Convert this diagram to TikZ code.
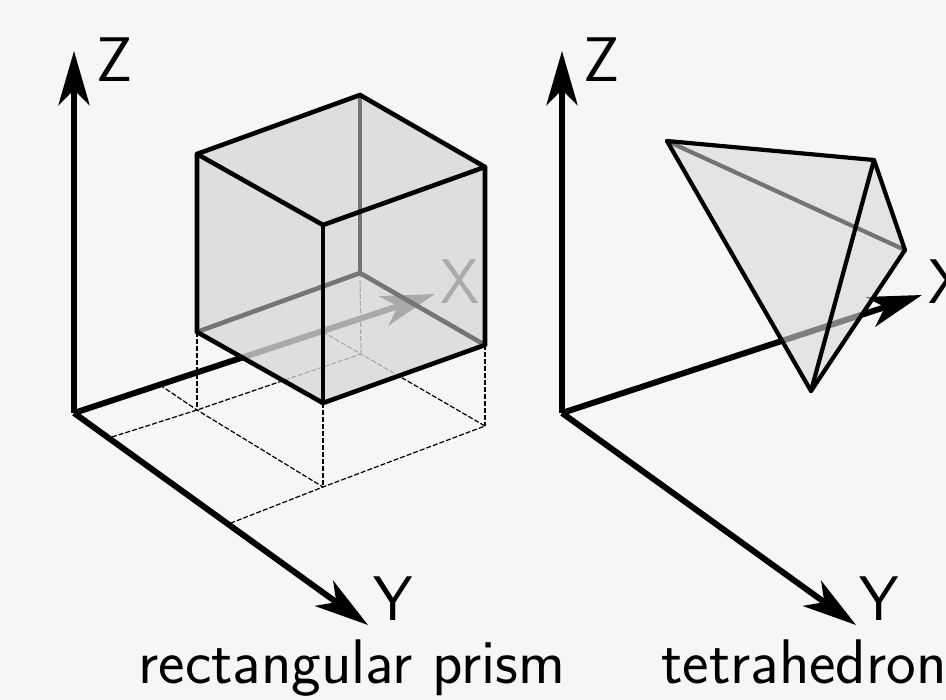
\documentclass[tikz,border=0pt]{standalone}
\usetikzlibrary{arrows.meta}
\definecolor{pagebg}{HTML}{F6F6F6}
\definecolor{solidfill}{HTML}{D7DADA}
\tikzset{
  axisline/.style={line width=6pt,-{Stealth[length=54pt,width=31pt,inset=15pt]}},
  edge/.style={line width=4.6pt,line join=round,line cap=round},
  thinedge/.style={line width=4.2pt,line join=round,line cap=round},
  guide/.style={line width=1.2pt,dash pattern=on 5pt off 2pt},
  axislabel/.style={inner sep=0pt,anchor=base,font=\sffamily\fontsize{63}{63}\selectfont},
  caption/.style={inner sep=0pt,anchor=base,font=\sffamily\fontsize{63}{63}\selectfont},
  prismfill/.style={fill=solidfill,fill opacity=0.54,draw=none},
  tetrafill/.style={fill=solidfill,fill opacity=0.36,draw=none}
}
\begin{document}
\begin{tikzpicture}[x=1pt,y=-1pt]
\fill[pagebg] (0,0) rectangle (946,700);
\useasboundingbox (0,0) rectangle (946,700);
% left axes
\coordinate (o1) at (74,413);
\coordinate (z1) at (74,51);
\coordinate (x1) at (435,294);
\coordinate (y1) at (368,625);
% guide points
\coordinate (fb) at (361,354);
\coordinate (fl) at (197,410);
\coordinate (ff) at (323,487);
\coordinate (fr) at (485,426);
\coordinate (ya) at (112,437);
\coordinate (yb) at (231,523);
\coordinate (xa) at (160,385);
\coordinate (xb) at (323,332);
% prism points
\coordinate (tb) at (360,95);
\coordinate (tl) at (197,154);
\coordinate (tf) at (323,225);
\coordinate (tr) at (485,167);
\coordinate (bb) at (360,273);
\coordinate (bl) at (197,332);
\coordinate (bf) at (323,403);
\coordinate (br) at (485,345);
\draw[guide] (xb) -- (fb) -- (fr) -- (ff) -- (yb);
\draw[guide] (ya) -- (fl) -- (fb);
\draw[guide] (xa) -- (fl) -- (ff);
\draw[guide] (bl) -- (fl);
\draw[guide] (bf) -- (ff);
\draw[guide] (br) -- (fr);
\draw[guide] (bb) -- (fb);
\draw[axisline] (o1) -- (z1);
\draw[axisline] (o1) -- (x1);
\draw[axisline] (o1) -- (y1);
\node[axislabel] (lz1) at (115,82) {Z};
\node[axislabel] (lx1) at (460,304) {X};
\node[axislabel] (ly1) at (393,620) {Y};
\fill[prismfill] (tl) -- (tb) -- (tr) -- (br) -- (bf) -- (bl) -- cycle;
\draw[edge] (bl) -- (bb) -- (br);
\draw[edge] (bb) -- (tb);
\fill[prismfill] (tl) -- (tb) -- (tr) -- (br) -- (bf) -- (bl) -- cycle;
\draw[edge] (tl) -- (tb) -- (tr) -- (br) -- (bf) -- (bl) -- cycle;
\draw[edge] (tl) -- (tf) -- (tr);
\draw[edge] (tf) -- (bf);
% right axes
\coordinate (o2) at (562,413);
\coordinate (z2) at (562,51);
\coordinate (x2) at (922,295);
\coordinate (y2) at (856,625);
\draw[axisline] (o2) -- (z2);
\draw[axisline] (o2) -- (x2);
\draw[axisline] (o2) -- (y2);
\node[axislabel] (lz2) at (602,82) {Z};
\node[axislabel] (lx2) at (948,304) {X};
\node[axislabel] (ly2) at (879,620) {Y};
% tetrahedron
\coordinate (ta) at (667,141);
\coordinate (tbb) at (874,160);
\coordinate (tc) at (905,250);
\coordinate (td) at (811,391);
\fill[tetrafill] (ta) -- (tbb) -- (tc) -- (td) -- cycle;
\draw[thinedge,draw opacity=0.75] (ta) -- (tc);
\fill[tetrafill] (ta) -- (tbb) -- (tc) -- (td) -- cycle;
\draw[thinedge] (ta) -- (tbb) -- (tc) -- (td) -- cycle;
\draw[thinedge] (tbb) -- (td);
\node[caption] (cap1) at (352,683) {rectangular prism};
\node[caption] (cap2) at (804,683) {tetrahedron};
\end{tikzpicture}
\end{document}
